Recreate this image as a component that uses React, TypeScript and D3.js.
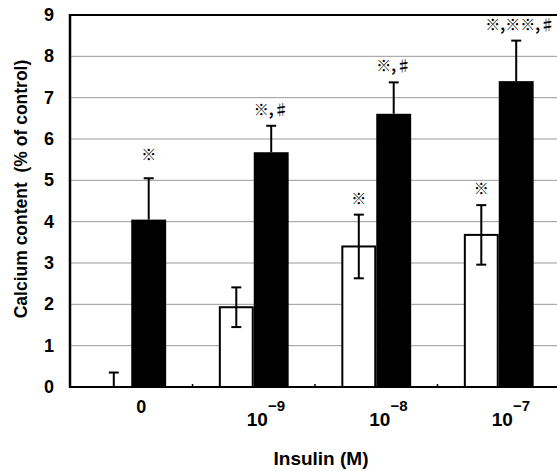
import React, { useRef, useEffect } from "react";
import * as d3 from "d3";

const doses = ["0", "-9", "-8", "-7"];
const series = ["control", "insulin"];
const whiteValues = [0, 1.93, 3.4, 3.68];
const whiteErrors = [0.35, 0.48, 0.77, 0.72];
const blackValues = [4.05, 5.68, 6.61, 7.4];
const blackErrors = [1.0, 0.64, 0.76, 0.98];
const whiteMarks = ["", "", "※", "※"];
const blackMarks = ["※", "※,♯", "※,♯", "※,※※,♯"];
const yTicks = [0, 1, 2, 3, 4, 5, 6, 7, 8, 9];

const App = () => {
  const svgRef = useRef(null);

  useEffect(() => {
    const W = 557;
    const H = 471;
    const margin = { top: 15, left: 70, bottom: 84, right: -3 };
    const svg = d3.select(svgRef.current);
    svg.selectAll("*").remove();

    const x = d3.scaleBand()
      .domain(doses)
      .range([margin.left, W - margin.right])
      .paddingInner(0.43)
      .paddingOuter(0.215);
    const xs = d3.scaleBand().domain(series).range([0, x.bandwidth()]);
    const y = d3.scaleLinear().domain([0, 9]).range([H - margin.bottom, margin.top]);

    const font = "'Liberation Sans', Arial, sans-serif";

    // grid
    svg.append("g")
      .selectAll("line")
      .data(yTicks.filter(d => d > 0 && d < 9))
      .enter()
      .append("line")
      .attr("x1", margin.left)
      .attr("x2", W)
      .attr("y1", d => y(d))
      .attr("y2", d => y(d))
      .attr("stroke", "#9a9a9a")
      .attr("stroke-width", 1);

    // top line
    svg.append("line")
      .attr("x1", margin.left).attr("x2", W)
      .attr("y1", y(9)).attr("y2", y(9))
      .attr("stroke", "#000").attr("stroke-width", 2);

    const rows = doses.map((d, i) => ({ dose: d, i }));

    // white bars
    svg.append("g")
      .selectAll("rect")
      .data(rows.filter(r => whiteValues[r.i] > 0))
      .enter()
      .append("rect")
      .attr("x", r => x(r.dose) + xs("control") + 1)
      .attr("y", r => y(whiteValues[r.i]))
      .attr("width", xs.bandwidth() - 2)
      .attr("height", r => y(0) - y(whiteValues[r.i]))
      .attr("fill", "#fff")
      .attr("stroke", "#000")
      .attr("stroke-width", 2);

    // black bars
    svg.append("g")
      .selectAll("rect")
      .data(rows)
      .enter()
      .append("rect")
      .attr("x", r => x(r.dose) + xs("insulin"))
      .attr("y", r => y(blackValues[r.i]))
      .attr("width", xs.bandwidth())
      .attr("height", r => y(0) - y(blackValues[r.i]))
      .attr("fill", "#000");

    const errG = svg.append("g").attr("stroke", "#000").attr("stroke-width", 2);
    const drawErr = (cx, v, e, both) => {
      const lo = both ? v - e : v;
      errG.append("line").attr("x1", cx).attr("x2", cx).attr("y1", y(v + e)).attr("y2", y(lo));
      errG.append("line").attr("x1", cx - 5).attr("x2", cx + 5).attr("y1", y(v + e)).attr("y2", y(v + e));
      if (both && v > 0) {
        errG.append("line").attr("x1", cx - 5).attr("x2", cx + 5).attr("y1", y(v - e)).attr("y2", y(v - e));
      }
    };
    rows.forEach(r => {
      const cw = x(r.dose) + xs("control") + xs.bandwidth() / 2;
      const cb = x(r.dose) + xs("insulin") + xs.bandwidth() / 2;
      drawErr(cw, whiteValues[r.i], whiteErrors[r.i], whiteValues[r.i] > 0);
      drawErr(cb, blackValues[r.i], blackErrors[r.i], false);
    });

    // significance marks
    const markG = svg.append("g")
      .attr("font-family", "'Noto Sans CJK JP', 'DejaVu Sans', sans-serif")
      .attr("font-size", 15)
      .attr("font-weight", "bold")
      .attr("text-anchor", "middle");
    rows.forEach(r => {
      const cw = x(r.dose) + xs("control") + xs.bandwidth() / 2;
      const cb = x(r.dose) + xs("insulin") + xs.bandwidth() / 2;
      if (whiteMarks[r.i]) {
        markG.append("text").attr("x", cw)
          .attr("y", y(whiteValues[r.i] + whiteErrors[r.i]) - 11)
          .text(whiteMarks[r.i]);
      }
      markG.append("text").attr("x", cb + (r.i === 3 ? 4 : 0))
        .attr("y", y(blackValues[r.i] + blackErrors[r.i]) - (r.i === 0 ? 18 : 11))
        .text(blackMarks[r.i]);
    });

    // axes
    svg.append("line")
      .attr("x1", margin.left).attr("x2", margin.left)
      .attr("y1", y(9) - 1).attr("y2", y(0) + 1)
      .attr("stroke", "#000").attr("stroke-width", 2.5);
    svg.append("line")
      .attr("x1", margin.left).attr("x2", W)
      .attr("y1", y(0)).attr("y2", y(0))
      .attr("stroke", "#000").attr("stroke-width", 2);

    // small ticks between groups
    svg.append("g")
      .selectAll("line")
      .data(doses.slice(1))
      .enter()
      .append("line")
      .attr("x1", d => x(d) - x.step() * 0.215)
      .attr("x2", d => x(d) - x.step() * 0.215)
      .attr("y1", y(0))
      .attr("y2", y(0) - 3)
      .attr("stroke", "#000")
      .attr("stroke-width", 1.5);

    // y tick labels
    svg.append("g")
      .selectAll("text")
      .data(yTicks)
      .enter()
      .append("text")
      .attr("x", 54)
      .attr("y", d => y(d) + 6)
      .attr("text-anchor", "end")
      .attr("font-family", font)
      .attr("font-weight", "bold")
      .attr("font-size", 18)
      .text(d => d);

    // x tick labels
    rows.forEach(r => {
      const cx = x(r.dose) + x.bandwidth() / 2;
      if (r.dose === "0") {
        svg.append("text").attr("x", cx + 10).attr("y", 413)
          .attr("text-anchor", "middle")
          .attr("font-family", font).attr("font-weight", "bold").attr("font-size", 18)
          .text("0");
      } else {
        const t = svg.append("text").attr("x", cx - 7).attr("y", 426)
          .attr("text-anchor", "start")
          .attr("font-family", font).attr("font-weight", "bold").attr("font-size", 19);
        t.append("tspan").text("10");
        t.append("tspan").attr("dy", -15).attr("font-size", 15).text("\u2212" + r.dose.slice(1));
      }
    });

    // axis titles
    svg.append("text")
      .attr("x", 321).attr("y", 465)
      .attr("text-anchor", "middle")
      .attr("font-family", font).attr("font-weight", "bold").attr("font-size", 19)
      .text("Insulin (M)");

    svg.append("text")
      .attr("transform", `translate(27, 189) rotate(-90)`)
      .attr("text-anchor", "middle")
      .attr("font-family", font).attr("font-weight", "bold").attr("font-size", 17.5)
      .attr("xml:space", "preserve")
      .text("Calcium content  (% of control)");
  }, []);

  return (
    <svg
      ref={svgRef}
      width={557}
      height={471}
      style={{ position: "absolute", left: 0, top: 0, background: "#fff" }}
    ></svg>
  );
};

export default App;
